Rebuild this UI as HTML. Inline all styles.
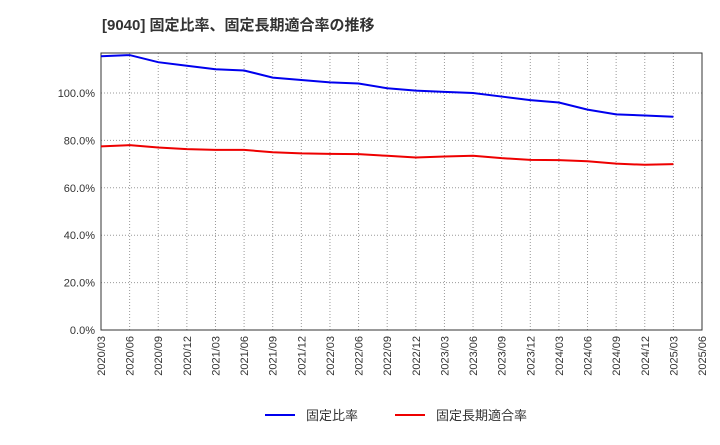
<!DOCTYPE html>
<html><head><meta charset="utf-8"><style>
body{margin:0;background:#fff;font-family:"Liberation Sans","Noto Sans CJK JP",sans-serif;}
</style></head><body>
<svg id="chart" width="720" height="440" xmlns="http://www.w3.org/2000/svg" font-family="Liberation Sans, Noto Sans CJK JP, sans-serif">
<text x="102" y="30" font-size="15" font-weight="bold" fill="#333">[9040]  固定比率、固定長期適合率の推移</text>
<g id="grid"></g><g id="axes"></g><g id="series"></g>
<g>
<line x1="265" y1="415" x2="295" y2="415" stroke="#0000ee" stroke-width="2"/>
<text x="306" y="420" font-size="13" fill="#333">固定比率</text>
<line x1="395" y1="415" x2="425" y2="415" stroke="#ee0000" stroke-width="2"/>
<text x="436" y="420" font-size="13" fill="#333">固定長期適合率</text>
</g>
</svg>
<script>
const categories=["2020/03","2020/06","2020/09","2020/12","2021/03","2021/06","2021/09","2021/12","2022/03","2022/06","2022/09","2022/12","2023/03","2023/06","2023/09","2023/12","2024/03","2024/06","2024/09","2024/12","2025/03","2025/06"];
const fixedRatio=[115.5,116,113,111.5,110,109.5,106.5,105.5,104.5,104,102,101,100.5,100,98.5,97,96,93,91,90.5,90];
const fixedLongTermRatio=[77.5,78,77,76.3,76,76,75,74.5,74.3,74.2,73.5,72.8,73.2,73.5,72.5,71.8,71.7,71.2,70.2,69.7,70];
const yTicks=[0,20,40,60,80,100];
const yTickLabels=["0.0%","20.0%","40.0%","60.0%","80.0%","100.0%"];
const X0=101,X1=702,Y0=330,Y100=93,YT=53;
const x=i=>X0+(X1-X0)*i/(categories.length-1);
const y=v=>Y0-(Y0-Y100)*v/100;
const NS="http://www.w3.org/2000/svg";
function mk(tag,attrs,parent,text){const e=document.createElementNS(NS,tag);for(const k in attrs)e.setAttribute(k,attrs[k]);if(text!==undefined)e.textContent=text;document.getElementById(parent).appendChild(e);return e;}
const g=document.getElementById('grid');
yTicks.forEach((v,i)=>{
 const l=mk('line',{x1:X0,x2:X1,y1:y(v),y2:y(v),stroke:'#999','stroke-dasharray':'1,2','stroke-width':1},'grid');
 
 
 const t=mk('text',{x:X0-6,y:y(v)+4,'font-size':11,'text-anchor':'end',fill:'#333'},'axes',yTickLabels[i]);
 
 
});
categories.forEach((c,i)=>{
 const l=mk('line',{x1:x(i),x2:x(i),y1:YT,y2:Y0,stroke:'#999','stroke-dasharray':'1,2','stroke-width':1},'grid');
 
 
 const t=mk('text',{x:0,y:0,'font-size':11,'text-anchor':'end',fill:'#333',transform:`translate(${x(i)+4},${Y0+6}) rotate(-90)`},'axes',c);
 
 
});
const fr=mk('rect',{x:X0,y:YT,width:X1-X0,height:Y0-YT,fill:'none',stroke:'#333','stroke-width':1},'axes');


function line(data,color,name){
 const p=mk('polyline',{points:data.map((v,i)=>x(i)+','+y(v)).join(' '),fill:'none',stroke:color,'stroke-width':2},'series');
 
 
}
line(fixedRatio,'#0000ee','fixed-ratio-line');
line(fixedLongTermRatio,'#ee0000','fixed-long-term-ratio-line');
</script>
</body></html>
